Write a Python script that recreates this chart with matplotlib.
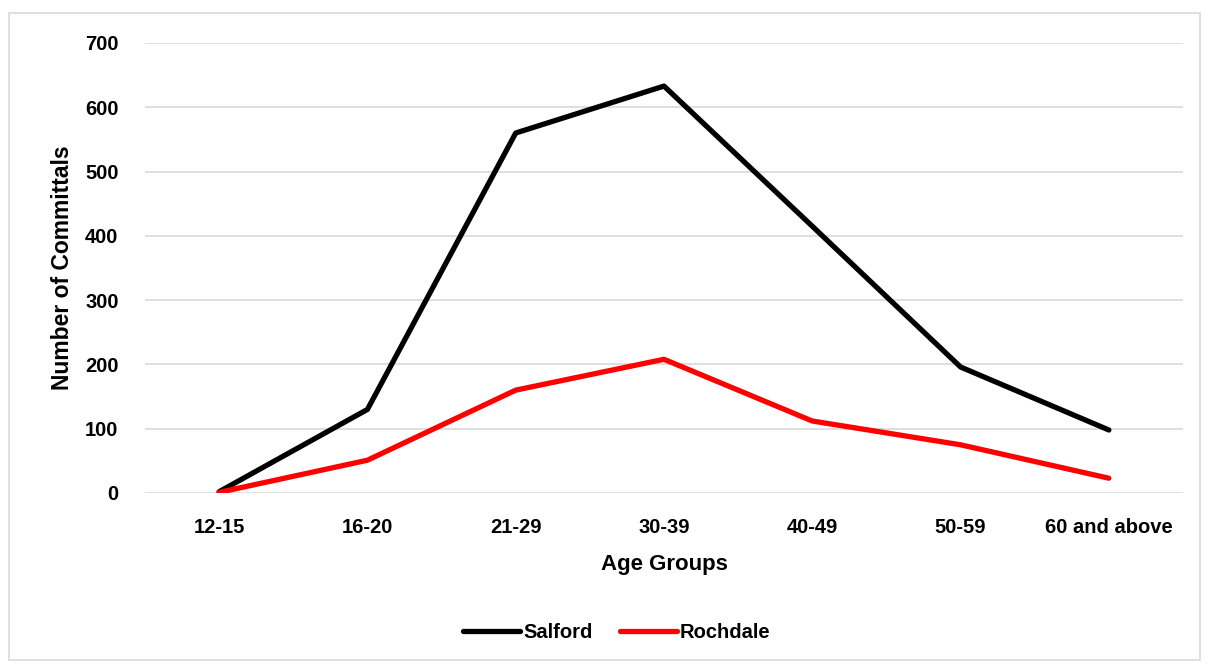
import matplotlib
matplotlib.use("Agg")
import matplotlib.pyplot as plt
from matplotlib.patches import Rectangle

age_groups = ["12-15", "16-20", "21-29", "30-39", "40-49", "50-59", "60 and above"]
salford = [2, 130, 560, 633, 415, 196, 98]
rochdale = [1, 51, 160, 208, 112, 75, 23]
y_ticks = [0, 100, 200, 300, 400, 500, 600, 700]

plt.rcParams["font.family"] = ["Liberation Sans", "DejaVu Sans"]
plt.rcParams["font.weight"] = "bold"

W, H = 1208, 664
fig = plt.figure(figsize=(W / 100, H / 100), dpi=100)
fig.patch.set_facecolor("white")

# outer chart frame
fig.add_artist(Rectangle((9 / W, 1 - 660 / H), (1200 - 9) / W, (660 - 13) / H,
                         transform=fig.transFigure, fill=False,
                         edgecolor="#D9D9D9", linewidth=1.2))

ax = fig.add_axes([145 / W, 1 - 493 / H, (1183 - 145) / W, (493 - 43) / H])
x = list(range(len(age_groups)))
ax.plot(x, salford, color="black", linewidth=3.8, solid_capstyle="round",
        solid_joinstyle="round", label="Salford", zorder=3)
ax.plot(x, rochdale, color="#FF0000", linewidth=3.8, solid_capstyle="round",
        solid_joinstyle="round", label="Rochdale", zorder=3)

ax.set_xlim(-0.5, len(age_groups) - 0.5)
ax.set_ylim(0, 700)
ax.set_yticks(y_ticks)
ax.set_xticks(x)
ax.set_xticklabels(age_groups)
ax.grid(axis="y", color="#D9D9D9", linewidth=1.2)
ax.set_axisbelow(True)
for s in ax.spines.values():
    s.set_visible(False)
ax.tick_params(length=0, labelsize=14.5, colors="black")
ax.tick_params(axis="y", pad=19)
ax.tick_params(axis="x", pad=18)
for lbl in ax.get_xticklabels() + ax.get_yticklabels():
    lbl.set_fontweight("bold")

ax.set_xlabel("Age Groups", fontsize=16, fontweight="bold", labelpad=12)
ax.set_ylabel("Number of Committals", fontsize=16.5, fontweight="bold", labelpad=8)

leg = fig.legend(loc="center", bbox_to_anchor=(617 / W, 1 - 633 / H), ncol=2,
                 frameon=False, fontsize=14.5, handlelength=2.8,
                 handletextpad=0.15, columnspacing=1.4)
for t in leg.get_texts():
    t.set_fontweight("bold")

fig.savefig("out.png", dpi=100)
